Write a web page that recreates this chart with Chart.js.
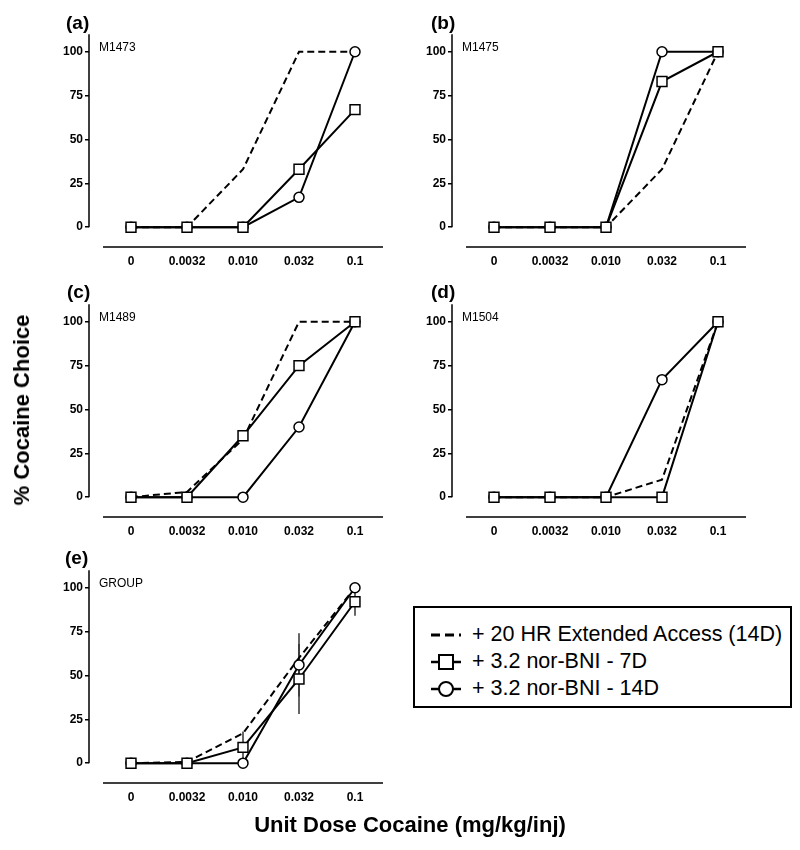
<!DOCTYPE html>
<html>
<head>
<meta charset="utf-8">
<script src="https://cdn.jsdelivr.net/npm/chart.js@4.4.1/dist/chart.umd.min.js"></script>
<style>
  body { margin: 0; background: #fff; font-family: "Liberation Sans", Arial, sans-serif; }
  #page { position: relative; width: 800px; height: 850px; }
  canvas { position: absolute; }
  .letter { position: absolute; font-weight: bold; font-size: 19px; line-height: 19px; }
  .ytitle { position: absolute; left: 22px; top: 410px; transform: translate(-50%, -50%) rotate(-90deg);
            font-weight: bold; font-size: 22px; white-space: nowrap; }
  .xtitle { position: absolute; left: 410px; top: 825px; transform: translate(-50%, -50%);
            font-weight: bold; font-size: 22px; white-space: nowrap; }
  #legend { position: absolute; left: 413px; top: 606px; width: 375px; height: 98px;
            border: 2px solid #000; }
  .row { position: absolute; left: 15px; height: 27px; display: flex; align-items: center;
         font-size: 21.5px; white-space: nowrap; }
  .row svg { margin-right: 10px; }
</style>
</head>
<body>
<div id="page">
  <canvas id="pa" width="400" height="255" style="left:0;top:25px"></canvas>
  <canvas id="pb" width="400" height="255" style="left:363px;top:25px"></canvas>
  <canvas id="pc" width="400" height="255" style="left:0;top:295px"></canvas>
  <canvas id="pd" width="400" height="255" style="left:363px;top:295px"></canvas>
  <canvas id="pe" width="400" height="255" style="left:0;top:561px"></canvas>

  <div class="letter" style="left:66px;top:13px">(a)</div>
  <div class="letter" style="left:431px;top:13px">(b)</div>
  <div class="letter" style="left:67px;top:282px">(c)</div>
  <div class="letter" style="left:431px;top:282px">(d)</div>
  <div class="letter" style="left:65px;top:548px">(e)</div>

  <div class="ytitle">% Cocaine Choice</div>
  <div class="xtitle">Unit Dose Cocaine (mg/kg/inj)</div>

  <div id="legend">
    <div class="row" style="top:13px">
      <svg width="32" height="12"><line x1="1" y1="6" x2="31" y2="6" stroke="#000" stroke-width="3" stroke-dasharray="9,5"/></svg>
      + 20 HR Extended Access (14D)
    </div>
    <div class="row" style="top:40px">
      <svg width="32" height="20"><line x1="1" y1="10" x2="31" y2="10" stroke="#000" stroke-width="2.5"/><rect x="9" y="3" width="14" height="14" fill="#fff" stroke="#000" stroke-width="2"/></svg>
      + 3.2 nor-BNI - 7D
    </div>
    <div class="row" style="top:67px">
      <svg width="32" height="20"><line x1="1" y1="10" x2="31" y2="10" stroke="#000" stroke-width="2.5"/><circle cx="16" cy="10" r="7" fill="#fff" stroke="#000" stroke-width="2"/></svg>
      + 3.2 nor-BNI - 14D
    </div>
  </div>
</div>

<script>
// dose categories (plotted at equal spacing)
const doseLabels = ['0', '0.0032', '0.010', '0.032', '0.1'];
const yTicks = [0, 25, 50, 75, 100];

// % cocaine choice per subject: extended access (dashed), nor-BNI 7D (squares), nor-BNI 14D (circles)
const m1473Ext = [0, 0, 33, 100, 100];
const m1473Nor7 = [0, 0, 0, 33, 67];
const m1473Nor14 = [0, 0, 0, 17, 100];

const m1475Ext = [0, 0, 0, 33, 100];
const m1475Nor7 = [0, 0, 0, 83, 100];
const m1475Nor14 = [0, 0, 0, 100, 100];

const m1489Ext = [0, 3, 33, 100, 100];
const m1489Nor7 = [0, 0, 35, 75, 100];
const m1489Nor14 = [0, 0, 0, 40, 100];

const m1504Ext = [0, 0, 0, 10, 100];
const m1504Nor7 = [0, 0, 0, 0, 100];
const m1504Nor14 = [0, 0, 0, 67, 100];

const groupExt = [0, 0.75, 17, 60, 100];
const groupNor7 = [0, 0, 9, 48, 92];
const groupNor14 = [0, 0, 0, 56, 100];
// SEM for group means
const groupNor7Err = [0, 0, 9, 20, 8];
const groupNor14Err = [0, 0, 0, 18, 0];

const toPoints = arr => arr.map((v, i) => ({ x: i, y: v }));

// draws the detached Prism-style axes, subject label and error bars
const offsetAxes = {
    id: 'offsetAxes',
    beforeDatasetsDraw(chart, args, opts) {
        const { ctx, chartArea, scales: { x, y } } = chart;
        ctx.save();
        ctx.strokeStyle = '#000';
        ctx.lineWidth = 1.5;
        ctx.beginPath();
        ctx.moveTo(chartArea.left, y.getPixelForValue(110));
        ctx.lineTo(chartArea.left, y.getPixelForValue(0));
        ctx.moveTo(x.getPixelForValue(-0.5), chartArea.bottom);
        ctx.lineTo(chartArea.right, chartArea.bottom);
        ctx.stroke();

        ctx.fillStyle = '#000';
        ctx.font = '12px "Liberation Sans", Arial';
        ctx.textBaseline = 'middle';
        ctx.fillText(opts.label, chartArea.left + 10, y.getPixelForValue(100) - 4);

        if (opts.errors) {
            ctx.strokeStyle = '#333';
            opts.errors.forEach(([means, errs]) => {
                means.forEach((m, i) => {
                    if (!errs[i]) return;
                    const px = x.getPixelForValue(i);
                    ctx.beginPath();
                    ctx.moveTo(px, y.getPixelForValue(m - errs[i]));
                    ctx.lineTo(px, y.getPixelForValue(m + errs[i]));
                    ctx.stroke();
                });
            });
        }
        ctx.restore();
    }
};

function makePanel(id, label, ext, nor7, nor14, errors) {
    const ctx = document.getElementById(id).getContext('2d');
    return new Chart(ctx, {
        type: 'line',
        data: {
            datasets: [
                {
                    data: toPoints(nor7), order: 0,
                    borderColor: '#000', borderWidth: 2,
                    pointStyle: 'rect', pointRadius: 7,
                    pointBackgroundColor: '#fff', pointBorderColor: '#000', pointBorderWidth: 1.5
                },
                {
                    data: toPoints(nor14), order: 1,
                    borderColor: '#000', borderWidth: 2,
                    pointStyle: 'circle', pointRadius: 5,
                    pointBackgroundColor: '#fff', pointBorderColor: '#000', pointBorderWidth: 1.5
                },
                {
                    data: toPoints(ext), order: 2,
                    borderColor: '#000', borderWidth: 2, borderDash: [7, 4],
                    pointRadius: 0
                }
            ]
        },
        options: {
            responsive: false,
            animation: false,
            layout: { padding: { top: 7, right: 17, left: 0, bottom: 0 } },
            plugins: {
                legend: { display: false },
                tooltip: { enabled: false },
                offsetAxes: { label, errors }
            },
            scales: {
                x: {
                    type: 'linear', min: -0.75, max: 4.5,
                    afterBuildTicks: s => { s.ticks = doseLabels.map((_, i) => ({ value: i })); },
                    afterFit: s => { s.height = 33; },
                    grid: { display: false, drawTicks: false },
                    border: { display: false },
                    ticks: {
                        padding: 7, color: '#000', maxRotation: 0, autoSkip: false,
                        font: { family: '"Liberation Sans", Arial', size: 12, weight: 'bold' },
                        callback: v => doseLabels[v]
                    }
                },
                y: {
                    min: -11.3, max: 110,
                    afterBuildTicks: s => { s.ticks = yTicks.map(v => ({ value: v })); },
                    afterFit: s => { s.width = 89; },
                    grid: { drawOnChartArea: false, drawTicks: true, tickLength: 4, color: '#000', lineWidth: 1.5 },
                    border: { display: false },
                    ticks: {
                        padding: 2, color: '#000',
                        font: { family: '"Liberation Sans", Arial', size: 12, weight: 'bold' }
                    }
                }
            }
        },
        plugins: [offsetAxes]
    });
}

makePanel('pa', 'M1473', m1473Ext, m1473Nor7, m1473Nor14);
makePanel('pb', 'M1475', m1475Ext, m1475Nor7, m1475Nor14);
makePanel('pc', 'M1489', m1489Ext, m1489Nor7, m1489Nor14);
makePanel('pd', 'M1504', m1504Ext, m1504Nor7, m1504Nor14);
makePanel('pe', 'GROUP', groupExt, groupNor7, groupNor14,
    [[groupNor7, groupNor7Err], [groupNor14, groupNor14Err]]);
</script>
</body>
</html>
